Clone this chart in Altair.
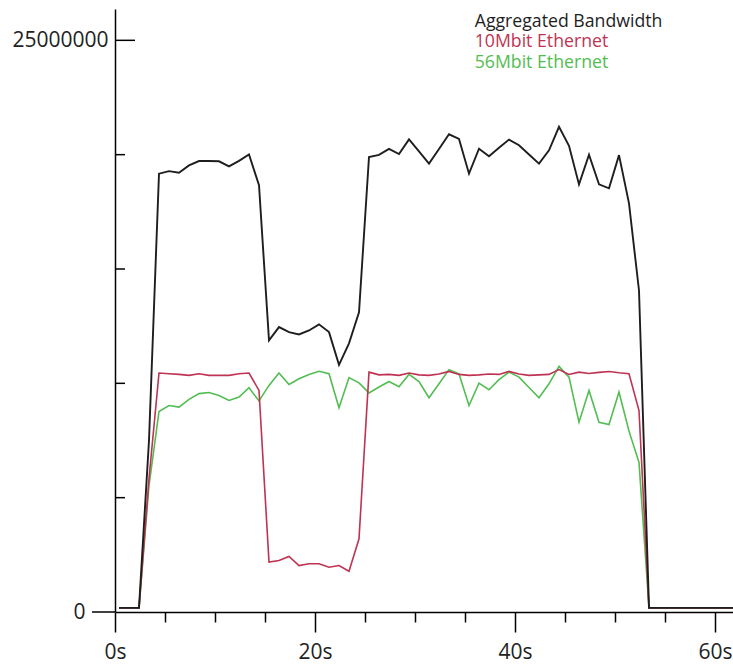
import altair as alt
import pandas as pd

# sample times (s)
time_s = [0.4, 1.4, 2.4, 3.4, 4.4, 5.4, 6.4, 7.4, 8.4, 9.4,
          10.4, 11.4, 12.4, 13.4, 14.4, 15.4, 16.4, 17.4, 18.4, 19.4,
          20.4, 21.4, 22.4, 23.4, 24.4, 25.4, 26.4, 27.4, 28.4, 29.4,
          30.4, 31.4, 32.4, 33.4, 34.4, 35.4, 36.4, 37.4, 38.4, 39.4,
          40.4, 41.4, 42.4, 43.4, 44.4, 45.4, 46.4, 47.4, 48.4, 49.4,
          50.4, 51.4, 52.4, 53.4, 54.4, 55.4, 56.4, 57.4, 58.4, 59.4,
          60.4, 61.4, 62.4]

# values in millions
aggregated = [0.18, 0.18, 0.18, 7.50, 19.17, 19.28, 19.21, 19.53, 19.72, 19.72,
              19.71, 19.49, 19.73, 20.01, 18.66, 11.88, 12.46, 12.24, 12.14, 12.31,
              12.58, 12.24, 10.81, 11.75, 13.11, 19.90, 19.99, 20.25, 20.03, 20.67,
              20.14, 19.61, 20.25, 20.89, 20.69, 19.17, 20.26, 19.93, 20.30, 20.66,
              20.41, 20.01, 19.61, 20.19, 21.22, 20.39, 18.70, 20.00, 18.70, 18.53,
              19.98, 17.87, 14.06, 0.18, 0.18, 0.18, 0.18, 0.18, 0.18, 0.18,
              0.18, 0.18, 0.18]
eth10 = [0.18, 0.18, 0.18, 5.84, 10.45, 10.42, 10.39, 10.35, 10.42, 10.35,
         10.35, 10.35, 10.42, 10.45, 9.69, 2.18, 2.25, 2.43, 2.03, 2.11,
         2.11, 1.96, 2.03, 1.78, 3.20, 10.49, 10.37, 10.39, 10.35, 10.45,
         10.37, 10.35, 10.41, 10.52, 10.39, 10.35, 10.37, 10.41, 10.39, 10.52,
         10.41, 10.35, 10.37, 10.39, 10.60, 10.39, 10.49, 10.43, 10.48, 10.52,
         10.46, 10.42, 8.81, 0.18, 0.18, 0.18, 0.18, 0.18, 0.18, 0.18,
         0.18, 0.18, 0.18]
eth56 = [0.18, 0.18, 0.18, 5.53, 8.77, 9.03, 8.96, 9.30, 9.55, 9.60,
         9.47, 9.25, 9.40, 9.81, 9.23, 9.91, 10.45, 9.95, 10.20, 10.39,
         10.53, 10.42, 8.93, 10.25, 10.02, 9.58, 9.84, 10.08, 9.85, 10.39,
         10.08, 9.37, 9.98, 10.60, 10.42, 9.03, 10.01, 9.72, 10.16, 10.49,
         10.27, 9.82, 9.37, 9.98, 10.74, 10.27, 8.30, 9.69, 8.30, 8.20,
         9.62, 7.91, 6.54, 0.18, 0.18, 0.18, 0.18, 0.18, 0.18, 0.18,
         0.18, 0.18, 0.18]

series_names = ["Aggregated Bandwidth", "10Mbit Ethernet", "56Mbit Ethernet"]
series_colors = ["#1e1e1e", "#bf3352", "#52bd52"]
series_widths = [1.9, 1.6, 1.6]

x_ticks = [0, 5, 10, 15, 20, 25, 30, 35, 40, 45, 50, 55, 60]
y_labels = [0, 25000000]
y_minor_ticks = [5000000, 10000000, 15000000, 20000000]
y_major_ticks = [25000000]
y_outer_ticks = [0]

rows = []
for name, vals in zip(series_names, [aggregated, eth10, eth56]):
    for t, v in zip(time_s, vals):
        rows.append({"time": t, "value": v * 1e6, "series": name})
df = pd.DataFrame(rows)

FONT = "Open Sans"
x_scale = alt.Scale(domain=[0, 61.8], nice=False, zero=False)
y_scale = alt.Scale(domain=[0, 26370000], nice=False)
color_scale = alt.Scale(domain=series_names, range=series_colors)

x_axis = alt.Axis(
    values=x_ticks, title=None, grid=False,
    labelExpr="datum.value % 20 === 0 ? datum.value + 's' : ''",
    tickSize={"condition": {"test": "datum.value % 20 === 0", "value": 20}, "value": 10},
    labelPadding=9, labelFont=FONT, labelFontSize=21, labelColor="#222222",
    domainColor="black", domainWidth=1.5, tickColor="black", tickWidth=1.5,
    labelFlush=False, labelOverlap=False,
)
y_axis = alt.Axis(
    values=y_labels, title=None, grid=False, ticks=False, format="d",
    labelPadding={"condition": {"test": "datum.value === 0", "value": 30}, "value": 7},
    labelFont=FONT, labelFontSize=21, labelColor="#222222",
    domainColor="black", domainWidth=1.5, labelFlush=False, labelOverlap=False,
)
legend = alt.Legend(
    orient="none", legendX=342, legendY=4, title=None,
    symbolSize=0, symbolStrokeWidth=0, symbolOpacity=0, symbolType="stroke",
    labelFont=FONT, labelFontSize=17.7, labelOffset=0, rowPadding=1.5, padding=0,
    labelLimit=400,
    labelColor=alt.ExprRef("scale('color', datum.value)"),
)

layers = []
order = [2, 1, 0]  # draw black on top
for idx in order:
    name = series_names[idx]
    ch = alt.Chart(df).transform_filter(alt.datum.series == name).mark_line(
        strokeWidth=series_widths[idx], clip=True
    ).encode(
        x=alt.X("time:Q", scale=x_scale, axis=x_axis),
        y=alt.Y("value:Q", scale=y_scale, axis=y_axis),
        color=alt.Color("series:N", scale=color_scale, legend=legend),
    )
    layers.append(ch)


def tick_layer(vals, x0, x1):
    return alt.Chart(pd.DataFrame({"value": vals})).mark_rule(
        color="black", strokeWidth=1.5
    ).encode(
        y=alt.Y("value:Q", scale=y_scale, axis=y_axis),
        x=alt.value(x0), x2=alt.value(x1),
    )


minor = tick_layer(y_minor_ticks, 0, 10)
major = tick_layer(y_major_ticks, 0, 20)
outer = tick_layer(y_outer_ticks, -23, 0)

chart = alt.layer(*layers, minor, major, outer).properties(
    width=618, height=603,
    autosize=alt.AutoSizeParams(type="none"),
    padding={"left": 115, "top": 9, "right": 0, "bottom": 54},
    background="white",
).configure_view(stroke=None)

chart.save("out.html", embed_options={"renderer": "svg", "actions": False})
